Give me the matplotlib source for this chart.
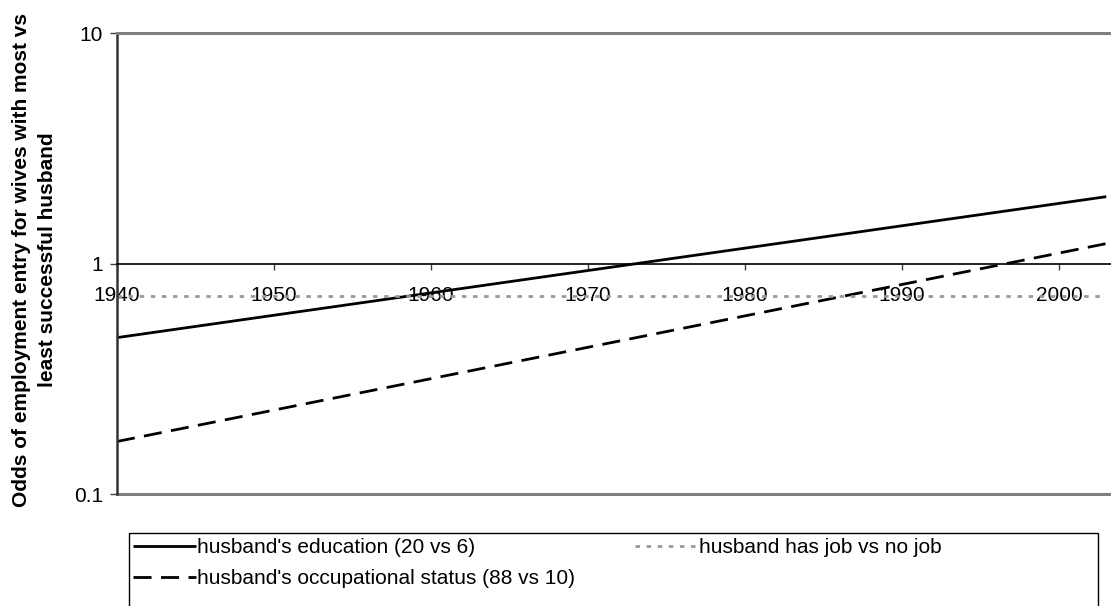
import matplotlib.pyplot as plt
from matplotlib.patches import Rectangle
from matplotlib.ticker import FixedLocator, NullLocator

plt.rcParams['font.family'] = ['Liberation Sans', 'DejaVu Sans']

# odds ratios at start and end of the period (log-linear trends)
years = [1940, 2003]
education = [0.477, 1.95]
occupation = [0.169, 1.22]
has_job = [0.725, 0.725]

labels = ["husband's education (20 vs 6)",
          "husband's occupational status (88 vs 10)",
          "husband has job vs no job"]
x_ticks = [1940, 1950, 1960, 1970, 1980, 1990, 2000]
y_ticks = [0.1, 1, 10]

fig = plt.figure(figsize=(11.11, 6.06), dpi=100)
ax = fig.add_axes([0.1053, 0.1848, 0.8947, 0.7607])

l1, = ax.plot(years, education, color='black', lw=2, solid_capstyle='butt')
l2, = ax.plot(years, occupation, color='black', lw=2, dashes=(6.5, 3.4))
l3, = ax.plot(years, has_job, color='#999999', lw=2, dashes=(1.6, 2.4))

ax.set_yscale('log')
ax.set_ylim(0.1, 10)
ax.set_xlim(1940, 2003.3)

# x axis sits on the odds = 1 line
ax.spines['bottom'].set_position(('data', 1))
ax.spines['bottom'].set_color('black')
ax.spines['bottom'].set_linewidth(1.2)
ax.spines['right'].set_visible(False)
ax.spines['top'].set_color('#808080')
ax.spines['top'].set_linewidth(2.2)
ax.spines['left'].set_color('#333333')
ax.spines['left'].set_linewidth(1.8)
ax.axhline(0.1, color='#808080', lw=2.2, clip_on=False)

ax.xaxis.set_major_locator(FixedLocator(x_ticks))
ax.set_xticklabels([str(y) for y in x_ticks])
ax.yaxis.set_major_locator(FixedLocator(y_ticks))
ax.yaxis.set_minor_locator(NullLocator())
ax.set_yticklabels(['0.1', '1', '10'])
ax.tick_params(axis='x', direction='out', length=4, width=1, color='#404040',
               pad=12, labelsize=15)
ax.tick_params(axis='y', direction='out', length=5, width=1, color='#404040',
               pad=5, labelsize=15)

fig.text(0.031, 0.571, "Odds of employment entry for wives with most vs\nleast successful husband",
         rotation=90, ha='center', va='center', fontsize=15, fontweight='bold',
         linespacing=1.45)

leg = fig.legend([l1, l2, l3], labels, ncol=2, loc='upper left',
                 bbox_to_anchor=(133 / 1111, 1 - 538 / 606),
                 frameon=False, fontsize=15, handlelength=3.0,
                 handletextpad=0.08, borderpad=0, labelspacing=0.57,
                 columnspacing=2.85, borderaxespad=0)

# legend box runs off the bottom edge
fig.patches.append(Rectangle((129 / 1111, -0.01), 969 / 1111, 1 - 533 / 606 + 0.01,
                             transform=fig.transFigure, fill=False,
                             edgecolor='black', lw=1))

fig.savefig('out.png', dpi=100)
